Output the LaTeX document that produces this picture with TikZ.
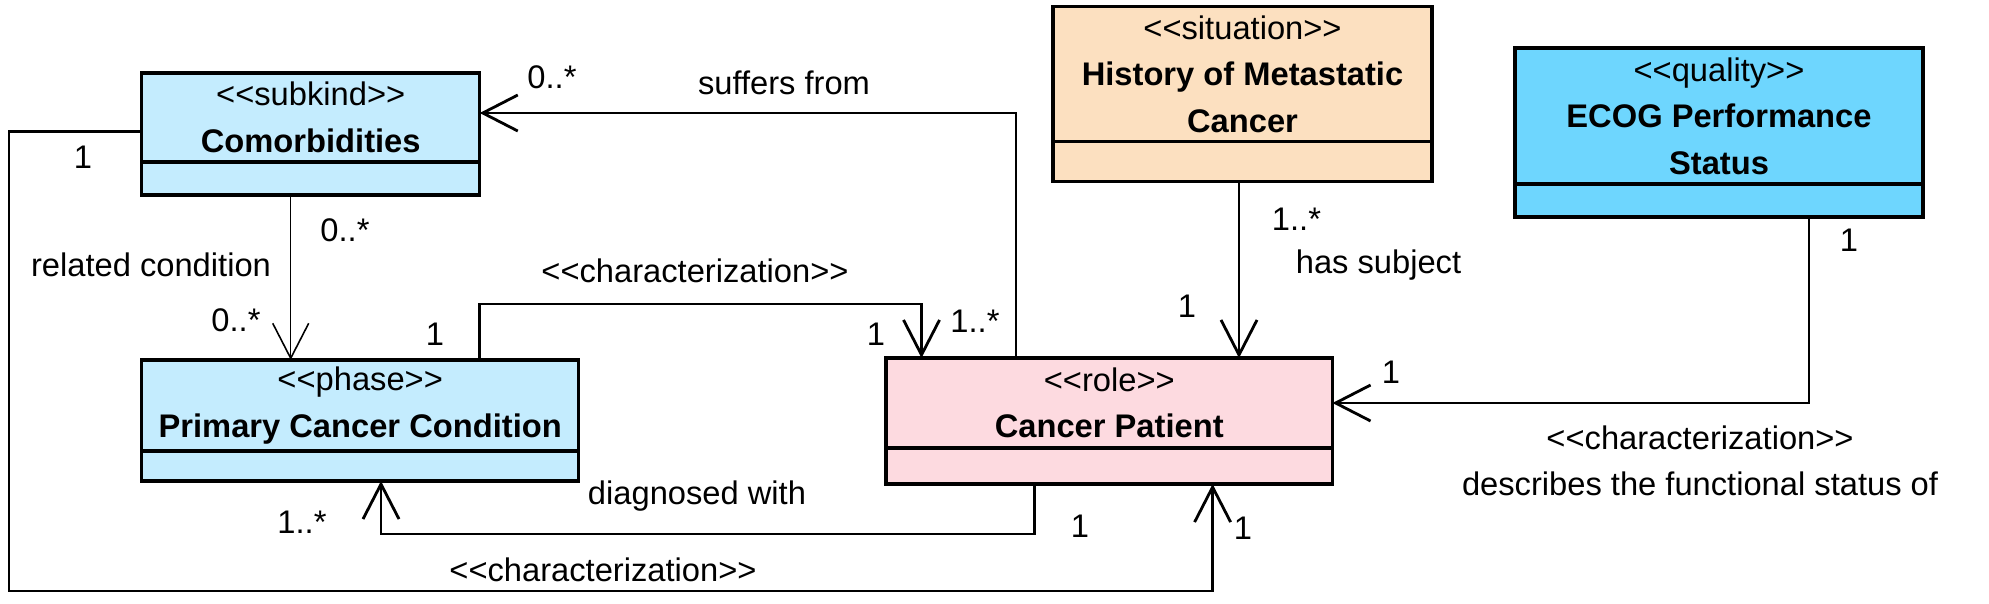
\documentclass[tikz,border=0pt]{standalone}
\usepackage{fontspec}
\setmainfont{Liberation Sans}
\usetikzlibrary{calc,positioning,arrows.meta}
\definecolor{subblue}{RGB}{196,236,254}
\definecolor{rolepink}{RGB}{253,218,224}
\definecolor{sitpeach}{RGB}{252,224,192}
\definecolor{qualblue}{RGB}{110,214,254}
\newcommand\stereo[1]{<\kern0pt<#1>\kern0pt>}
\tikzset{
  cls/.style={draw, line width=0.9pt, align=center, inner sep=0pt, outer sep=0pt,
    anchor=north west, font=\fontsize{9.3}{13.2}\selectfont},
  comp/.style={draw, line width=0.9pt, inner sep=0pt, outer sep=0pt},
  assoc/.style={line width=0.8pt, -{Straight Barb[length=3.5mm,width=3.6mm]}},
  lbl/.style={inner sep=0pt, font=\fontsize{9.3}{11}\selectfont}
}

\begin{document}
\begin{tikzpicture}
\useasboundingbox (0,0) rectangle (19.89,-6.03);
% classes
\node [cls, fill=subblue, minimum width=3.38cm, minimum height=0.89cm] (com) at (1.417,-0.73) {\stereo{subkind}\\\textbf{Comorbidities}};
\node [comp, fill=subblue, minimum width=3.38cm, minimum height=0.33cm, below=0pt of com] (comb) {};
\node [cls, fill=subblue, minimum width=4.37cm, minimum height=0.91cm] (pcc) at (1.417,-3.60) {\stereo{phase}\\\textbf{Primary Cancer Condition}};
\node [comp, fill=subblue, minimum width=4.37cm, minimum height=0.30cm, below=0pt of pcc] (pccb) {};
\node [cls, fill=rolepink, minimum width=4.465cm, minimum height=0.90cm] (cp) at (8.86,-3.58) {\stereo{role}\\\textbf{Cancer Patient}};
\node [comp, fill=rolepink, minimum width=4.465cm, minimum height=0.36cm, below=0pt of cp] (cpb) {};
\node [cls, fill=sitpeach, minimum width=3.79cm, minimum height=1.35cm] (hmc) at (10.53,-0.067) {\stereo{situation}\\\textbf{History of Metastatic}\\\textbf{Cancer}};
\node [comp, fill=sitpeach, minimum width=3.79cm, minimum height=0.40cm, below=0pt of hmc] (hmcb) {};
\node [cls, fill=qualblue, minimum width=4.08cm, minimum height=1.36cm] (ecog) at (15.15,-0.48) {\stereo{quality}\\\textbf{ECOG Performance}\\\textbf{Status}};
\node [comp, fill=qualblue, minimum width=4.08cm, minimum height=0.33cm, below=0pt of ecog] (ecogb) {};
% connectors
\coordinate (corner) at (0.09,-5.91);
\draw [assoc] ($(cp.north west)+(1.30,0)$) |- ([yshift=0.45mm]com.east);
\draw [assoc, line width=0.45pt] ($(comb.south west)+(1.49,0)$) -- ($(pcc.north west)+(1.49,0)$);
\draw [assoc] ($(pcc.north west)+(3.38,0)$) -- ++(0,0.56) -| ($(cp.north west)+(0.355,0)$);
\draw [assoc] ($(cpb.south west)+(1.487,0)$) -- ++(0,-0.50) -| ($(pccb.south west)+(2.393,0)$);
\draw [assoc] ([yshift=-1.4mm]com.west) -| (corner) -| ($(cpb.south west)+(3.266,0)$);
\draw [assoc] ($(hmcb.south west)+(1.86,0)$) -- ($(cp.north west)+(3.53,0)$);
\draw [assoc] ($(ecogb.south west)+(2.94,0)$) |- (cp.east);
% labels
\node [lbl] (m1) at (0.83,-1.57) {1};
\node [lbl] (m2) at (5.52,-0.77) {0..*};
\node [lbl] (suf) at (7.84,-0.83) {suffers from};
\node [lbl] (m3) at (3.45,-2.30) {0..*};
\node [lbl] (rel) at (1.51,-2.65) {related condition};
\node [lbl] (m4) at (2.36,-3.20) {0..*};
\node [lbl] (m5) at (4.35,-3.34) {1};
\node [lbl] (char1) at (6.95,-2.71) {\stereo{characterization}};
\node [lbl] (m6) at (8.76,-3.34) {1};
\node [lbl] (m7) at (9.75,-3.21) {1..*};
\node [lbl] (diag) at (6.97,-4.96) {diagnosed with};
\node [lbl] (m8) at (3.02,-5.22) {1..*};
\node [lbl] (m9) at (10.80,-5.26) {1};
\node [lbl] (char2) at (6.03,-5.70) {\stereo{characterization}};
\node [lbl] (m10) at (12.43,-5.28) {1};
\node [lbl] (m11) at (12.965,-2.19) {1..*};
\node [lbl] (subj) at (13.785,-2.65) {has subject};
\node [lbl] (m12) at (11.87,-3.06) {1};
\node [lbl] (m13) at (18.49,-2.40) {1};
\node [lbl] (m14) at (13.91,-3.72) {1};
\node [lbl] (char3) at (17.00,-4.38) {\stereo{characterization}};
\node [lbl] (func) at (17.00,-4.84) {describes the functional status of};
\end{tikzpicture}
\end{document}
